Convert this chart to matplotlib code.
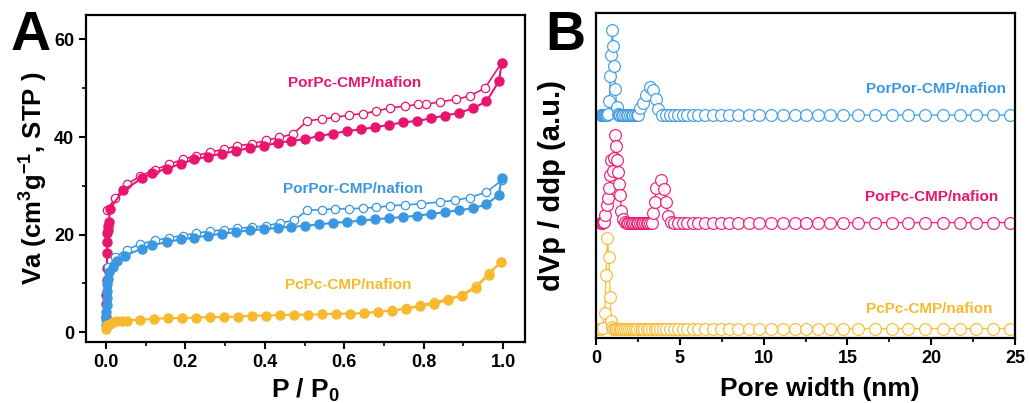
import numpy as np
import matplotlib
matplotlib.use('Agg')
import matplotlib.pyplot as plt

plt.rcParams['font.family'] = ['Liberation Sans', 'DejaVu Sans']
plt.rcParams['font.weight'] = 'bold'
plt.rcParams['mathtext.fontset'] = 'custom'
plt.rcParams['mathtext.rm'] = 'Liberation Sans:bold'
plt.rcParams['mathtext.bf'] = 'Liberation Sans:bold'
plt.rcParams['mathtext.default'] = 'bf'

PINK = '#e8156f'
BLUE = '#3a98e2'
YELLOW = '#f7b92d'

# ---- panel A: N2 isotherms (P/P0, Va) ----
porpc_ads_p = [0.0005, 0.001, 0.0015, 0.002, 0.0025, 0.003, 0.0035, 0.004, 0.005, 0.006, 0.008, 0.010,
               0.044, 0.090, 0.117, 0.153, 0.188, 0.222, 0.258, 0.293, 0.327, 0.362, 0.398, 0.432, 0.467,
               0.502, 0.537, 0.572, 0.607, 0.643, 0.678, 0.713, 0.748, 0.783, 0.818, 0.853, 0.888, 0.924,
               0.958, 0.990, 0.996]
porpc_ads_v = [3.1, 5.8, 7.6, 10.7, 13.1, 16.2, 18.5, 20.3, 20.9, 21.7, 22.6, 25.3,
               29.1, 31.5, 32.6, 33.5, 34.5, 35.4, 36.0, 36.6, 37.1, 37.8, 38.2, 38.8, 39.2,
               39.6, 40.2, 40.7, 41.2, 41.6, 42.0, 42.5, 43.0, 43.3, 43.8, 44.4, 44.9, 45.9,
               47.3, 51.5, 55.2]
porpc_des_p = [0.996, 0.954, 0.916, 0.881, 0.840, 0.807, 0.786, 0.753, 0.716, 0.681, 0.648, 0.612,
               0.576, 0.543, 0.507, 0.471, 0.436, 0.403, 0.367, 0.331, 0.297, 0.262, 0.228, 0.193,
               0.159, 0.123, 0.087, 0.054, 0.023, 0.002]
porpc_des_v = [55.2, 50.0, 48.4, 47.7, 47.2, 46.7, 46.7, 46.3, 46.0, 45.3, 44.8, 44.5,
               44.0, 43.7, 43.3, 40.6, 39.9, 39.3, 38.6, 38.2, 37.5, 36.9, 36.2, 35.4,
               34.4, 33.3, 32.0, 30.4, 27.4, 25.0]

porpor_ads_p = [0.0005, 0.001, 0.0015, 0.002, 0.0025, 0.003, 0.004, 0.005, 0.008, 0.017, 0.027, 0.048,
                0.090, 0.117, 0.153, 0.188, 0.222, 0.258, 0.293, 0.327, 0.362, 0.398, 0.432, 0.467,
                0.502, 0.537, 0.572, 0.607, 0.643, 0.678, 0.713, 0.748, 0.783, 0.818, 0.853, 0.888,
                0.924, 0.958, 0.989, 0.996]
porpor_ads_v = [1.5, 2.8, 4.2, 5.6, 7.0, 8.4, 9.8, 11.0, 12.4, 13.3, 14.5, 15.7,
                17.1, 17.8, 18.5, 19.0, 19.4, 19.8, 20.2, 20.5, 20.9, 21.1, 21.4, 21.6,
                21.8, 22.1, 22.4, 22.6, 22.9, 23.1, 23.4, 23.6, 23.9, 24.2, 24.6, 25.0,
                25.4, 26.2, 28.1, 31.7]
porpor_des_p = [0.996, 0.958, 0.916, 0.878, 0.840, 0.794, 0.753, 0.716, 0.681, 0.646, 0.612, 0.576,
                0.543, 0.507, 0.473, 0.438, 0.404, 0.367, 0.331, 0.297, 0.262, 0.228, 0.193, 0.159,
                0.123, 0.087, 0.052, 0.023, 0.006]
porpor_des_v = [31.1, 28.7, 27.6, 27.0, 26.7, 26.3, 26.1, 25.9, 25.6, 25.4, 25.3, 25.3,
                25.1, 25.0, 22.9, 22.4, 21.8, 21.5, 21.3, 21.0, 20.7, 20.3, 19.8, 19.4,
                18.8, 18.1, 16.9, 15.4, 13.3]

pcpc_ads_p = [0.000, 0.003, 0.010, 0.018, 0.029, 0.040, 0.052, 0.086, 0.121, 0.156, 0.191, 0.227,
              0.262, 0.297, 0.332, 0.367, 0.403, 0.438, 0.473, 0.508, 0.544, 0.579, 0.614, 0.649,
              0.685, 0.720, 0.755, 0.790, 0.826, 0.861, 0.896, 0.931, 0.964, 0.994]
pcpc_ads_v = [0.7, 1.4, 1.7, 2.0, 2.2, 2.3, 2.4, 2.6, 2.7, 2.9, 2.9, 3.0,
              3.1, 3.1, 3.2, 3.4, 3.4, 3.5, 3.6, 3.6, 3.7, 3.8, 3.8, 3.9,
              4.2, 4.4, 4.8, 5.3, 5.8, 6.6, 7.5, 9.1, 11.8, 14.4]
pcpc_des_p = [0.994, 0.964, 0.931, 0.896, 0.861, 0.826, 0.790, 0.755, 0.720, 0.685, 0.649]
pcpc_des_v = [14.4, 12.1, 9.4, 7.7, 6.8, 6.2, 5.5, 4.9, 4.5, 4.2, 3.9]

# ---- panel B: pore size distributions (nm, offset a.u.) ----
porpor_w = [0.30, 0.36, 0.42, 0.48, 0.54, 0.60, 0.66, 0.72, 0.80, 0.86, 0.92, 0.97, 1.03, 1.08,
            1.16, 1.23, 1.30, 1.38, 1.46, 1.55, 1.64, 1.73, 1.82, 1.92, 2.02, 2.12, 2.22, 2.32,
            2.42, 2.52, 2.63, 2.82, 2.98, 3.20, 3.42, 3.58, 3.72, 3.92, 4.18, 4.42, 4.65, 4.91,
            5.17, 5.45, 5.77, 6.10, 6.50, 6.96, 7.44, 7.95, 8.50, 9.10, 9.75, 10.45, 11.15, 11.85,
            12.55, 13.25, 13.95, 14.75, 15.65, 16.65, 17.64, 18.64, 19.63, 20.70, 21.70, 22.70,
            23.70, 24.70]
porpor_d = [68.6, 68.6, 68.6, 68.6, 68.6, 68.6, 68.6, 69.0, 73.0, 80.6, 87.1, 94.8, 89.8, 83.7,
            76.5, 71.2, 68.9, 68.6, 68.6, 68.6, 68.6, 68.6, 68.6, 68.6, 68.6, 68.6, 68.6, 68.6,
            68.6, 68.6, 70.7, 72.4, 74.8, 77.2, 76.3, 73.6, 70.4, 68.6, 68.6, 68.6, 68.6, 68.6,
            68.6, 68.6, 68.6, 68.6, 68.6, 68.6, 68.6, 68.6, 68.6, 68.6, 68.6, 68.6, 68.6, 68.6,
            68.6, 68.6, 68.6, 68.6, 68.6, 68.6, 68.6, 68.6, 68.6, 68.6, 68.6, 68.6,
            68.6, 68.6]

porpc_w = [0.30, 0.36, 0.42, 0.48, 0.56, 0.64, 0.72, 0.80, 0.86, 0.92, 0.99, 1.05, 1.13, 1.20,
           1.24, 1.30, 1.37, 1.44, 1.52, 1.62, 1.72, 1.82, 1.92, 2.02, 2.12, 2.22, 2.32, 2.42,
           2.52, 2.62, 2.72, 2.82, 2.92, 3.02, 3.12, 3.22, 3.32, 3.42, 3.52, 3.60, 3.86, 4.06,
           4.20, 4.32, 4.45, 4.65, 4.91, 5.17, 5.45, 5.77, 6.10, 6.50, 6.96, 7.44, 7.95, 8.50,
           9.10, 9.75, 10.45, 11.15, 11.85, 12.55, 13.25, 13.95, 14.75, 15.65, 16.65, 17.64,
           18.64, 19.63, 20.70, 21.70, 22.70, 23.70, 24.70]
porpc_d = [35.5, 35.5, 35.6, 35.8, 37.8, 40.9, 43.0, 46.1, 50.2, 54.8, 51.5, 55.5, 62.5, 59.1,
           54.8, 51.2, 47.4, 44.0, 39.2, 36.5, 35.7, 35.5, 35.5, 35.5, 35.5, 35.5, 35.5, 35.5,
           35.5, 35.5, 35.5, 35.5, 35.5, 35.5, 35.5, 35.5, 35.5, 38.4, 41.9, 46.2, 48.6, 45.7,
           41.9, 37.5, 35.6, 35.5, 35.5, 35.5, 35.5, 35.5, 35.5, 35.5, 35.5, 35.5, 35.5, 35.5,
           35.5, 35.5, 35.5, 35.5, 35.5, 35.5, 35.5, 35.5, 35.5, 35.5, 35.5, 35.5,
           35.5, 35.5, 35.5, 35.5, 35.5, 35.5, 35.5]

pcpc_w = [0.10, 0.20, 0.30, 0.40, 0.52, 0.60, 0.68, 0.77, 0.85, 0.90, 0.96, 1.02, 1.12, 1.22,
          1.32, 1.42, 1.52, 1.62, 1.72, 1.84, 1.96, 2.08, 2.20, 2.32, 2.46, 2.60, 2.74, 2.88,
          3.02, 3.18, 3.34, 3.50, 3.66, 3.82, 4.00, 4.18, 4.42, 4.65, 4.91, 5.17, 5.45, 5.77,
          6.10, 6.50, 6.96, 7.44, 7.95, 8.50, 9.10, 9.75, 10.45, 11.15, 11.85, 12.55, 13.25,
          13.95, 14.75, 15.65, 16.65, 17.64, 18.64, 19.63, 20.70, 21.70, 22.70, 23.70, 24.70]
pcpc_d = [2.9, 2.9, 2.9, 3.0, 7.7, 19.5, 30.7, 24.8, 12.5, 5.1, 3.3, 2.9, 2.9, 2.9,
          2.9, 2.9, 2.9, 2.9, 2.9, 2.9, 2.9, 2.9, 2.9, 2.9, 2.9, 2.9, 2.9, 2.9,
          2.9, 2.9, 2.9, 2.9, 2.9, 2.9, 2.9, 2.9, 2.9, 2.9, 2.9, 2.9, 2.9, 2.9,
          2.9, 2.9, 2.9, 2.9, 2.9, 2.9, 2.9, 2.9, 2.9, 2.9, 2.9, 2.9, 2.9,
          2.9, 2.9, 2.9, 2.9, 2.9, 2.9, 2.9, 2.9, 2.9, 2.9, 2.9, 2.9]

names = ['PorPc-CMP/nafion', 'PorPor-CMP/nafion', 'PcPc-CMP/nafion']


def style_axes(ax):
    for s in ax.spines.values():
        s.set_linewidth(1.6)
    ax.tick_params(which='major', direction='out', length=5, width=1.5, labelsize=13)
    ax.tick_params(which='minor', direction='out', length=3, width=1.2)


def main():
    fig = plt.figure(figsize=(10.29, 4.03), dpi=100)
    axA = fig.add_axes([0.0836, 0.1514, 0.4266, 0.8114])
    axB = fig.add_axes([0.5792, 0.1613, 0.4072, 0.8064])

    # panel A
    for (ap, av, dp, dv, c) in [(porpc_ads_p, porpc_ads_v, porpc_des_p, porpc_des_v, PINK),
                                (porpor_ads_p, porpor_ads_v, porpor_des_p, porpor_des_v, BLUE),
                                (pcpc_ads_p, pcpc_ads_v, pcpc_des_p, pcpc_des_v, YELLOW)]:
        axA.plot(dp, dv, '-o', color=c, lw=1.2, ms=6, mfc='white', mec=c, mew=0.9)
        axA.plot(ap, av, '-o', color=c, lw=1.5, ms=6.5, mfc=c, mec=c)
    axA.set_xlim(-0.05, 1.055)
    axA.set_ylim(-2, 65)
    axA.set_xticks([0.0, 0.2, 0.4, 0.6, 0.8, 1.0])
    axA.set_xticks(np.arange(0.1, 1.0, 0.2), minor=True)
    axA.set_yticks([0, 20, 40, 60])
    axA.set_yticks([10, 30, 50], minor=True)
    style_axes(axA)
    axA.set_xlabel('P / P$_0$', fontsize=19, fontweight='bold', labelpad=4)
    axA.set_ylabel('Va (cm$^3$g$^{-1}$, STP )', fontsize=18.5, fontweight='bold', labelpad=3)
    axA.text(0.627, 51, names[0], color=PINK, fontsize=11, fontweight='bold', ha='center', va='center')
    axA.text(0.622, 29.4, names[1], color=BLUE, fontsize=11, fontweight='bold', ha='center', va='center')
    axA.text(0.61, 9.6, names[2], color=YELLOW, fontsize=11, fontweight='bold', ha='center', va='center')

    # panel B
    for (w, d, c) in [(porpor_w, porpor_d, BLUE), (porpc_w, porpc_d, PINK), (pcpc_w, pcpc_d, YELLOW)]:
        axB.plot(w, d, '-o', color=c, lw=1.0, ms=8.5, mfc='white', mec=c, mew=0.9, alpha=0.9)
    axB.set_xlim(0, 25)
    axB.set_ylim(0, 100)
    axB.set_xticks([0, 5, 10, 15, 20, 25])
    axB.set_xticks([2.5, 7.5, 12.5, 17.5, 22.5], minor=True)
    axB.set_yticks([])
    style_axes(axB)
    axB.set_xlabel('Pore width (nm)', fontsize=19, fontweight='bold', labelpad=0)
    axB.xaxis.set_label_coords(0.534, -0.12)
    axB.set_ylabel('dVp / ddp (a.u.)', fontsize=21, fontweight='bold', labelpad=8)
    axB.yaxis.set_label_coords(-0.072, 0.47)
    axB.text(20.26, 76.6, 'PorPor-CMP/nafion', color=BLUE, fontsize=11, fontweight='bold', ha='center', va='center')
    axB.text(20.05, 43.4, names[0], color=PINK, fontsize=11, fontweight='bold', ha='center', va='center')
    axB.text(19.9, 8.9, names[2], color=YELLOW, fontsize=11, fontweight='bold', ha='center', va='center')

    fig.text(0.010, 0.975, 'A', fontsize=40, fontweight='bold', va='top', ha='left')
    fig.text(0.530, 0.975, 'B', fontsize=40, fontweight='bold', va='top', ha='left')

    fig.savefig('out.png', dpi=100)


if __name__ == '__main__':
    main()
